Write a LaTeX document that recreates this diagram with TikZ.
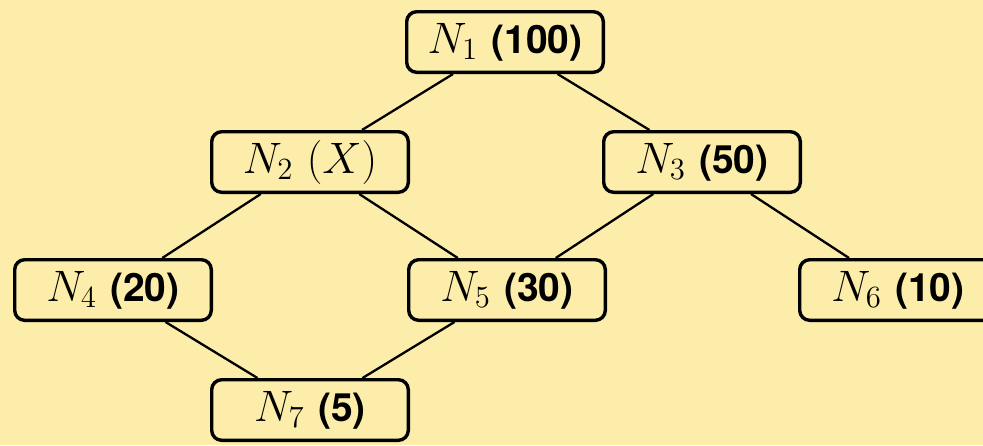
\RequirePackage{fix-cm}
\documentclass[tikz,border=0pt]{standalone}
\usepackage{amsmath}
\usepackage{fontspec}
\newfontfamily\numfont{TeX Gyre Heros}
\definecolor{bg}{RGB}{253,237,170}
\tikzset{
  tnode/.style={draw=black, line width=1.7pt, rounded corners=5pt, fill=bg,
    minimum width=98.3pt, minimum height=30.3pt, inner sep=0pt,
    font=\fontsize{22}{26}\selectfont},
  tedge/.style={line width=1.15pt, draw=black}
}
\newcommand{\num}[1]{{\numfont\bfseries\fontsize{19.5}{23}\selectfont #1}}
\begin{document}
\begin{tikzpicture}[x=0.5pt,y=-0.5pt]
  \fill[bg] (0,0) rectangle (983,445);
  \useasboundingbox (0,0) rectangle (983,445);
  \node[tnode] (n1) at (505,42) {$N_1$\ \num{(100)}};
  \node[tnode] (n2) at (310,162) {$N_2$\ $(X)$};
  \node[tnode] (n3) at (702,162) {$N_3$\ \num{(50)}};
  \node[tnode] (n4) at (113,290) {$N_4$\ \num{(20)}};
  \node[tnode] (n5) at (507,290) {$N_5$\ \num{(30)}};
  \node[tnode] (n6) at (898,290) {$N_6$\ \num{(10)}};
  \node[tnode] (n7) at (310,410) {$N_7$\ \num{(5)}};
  \draw[tedge] (n1) -- (n2);
  \draw[tedge] (n1) -- (n3);
  \draw[tedge] (n2) -- (n4);
  \draw[tedge] (n2) -- (n5);
  \draw[tedge] (n3) -- (n5);
  \draw[tedge] (n3) -- (n6);
  \draw[tedge] (n4) -- (n7);
  \draw[tedge] (n5) -- (n7);
\end{tikzpicture}
\end{document}
